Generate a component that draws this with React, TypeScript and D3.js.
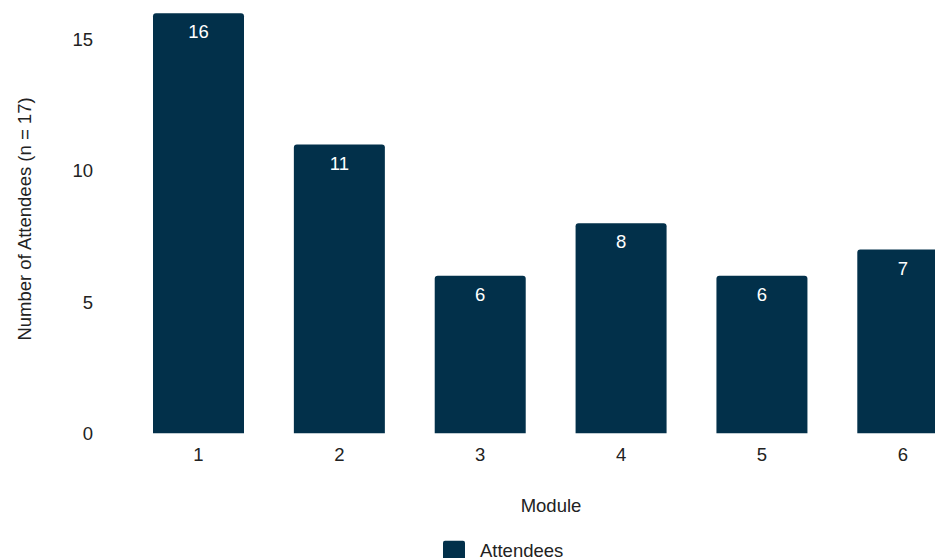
import React from "react";
import * as d3 from "d3";

const modules = ["1", "2", "3", "4", "5", "6"];
const attendees = [16, 11, 6, 8, 6, 7];
const yTicks = [0, 5, 10, 15];

const W = 935;
const H = 558;
const BAR = "#02304a";
const TXT = "#222222";
const FONT = "'Liberation Sans', Arial, Helvetica, sans-serif";
const FS = 18.5;

function roundedTop(x: number, y: number, w: number, h: number, r: number) {
  const rr = Math.min(r, w / 2, h);
  return `M${x},${y + h}V${y + rr}Q${x},${y} ${x + rr},${y}H${x + w - rr}Q${x + w},${y} ${x + w},${y + rr}V${y + h}Z`;
}

export default function App() {
  const step = 140.86;
  const pi = 49.86 / step;
  const po = pi / 2;
  const x0 = 153 - po * step;
  const x = d3
    .scaleBand<string>()
    .domain(modules)
    .range([x0, x0 + step * 6])
    .paddingInner(pi)
    .paddingOuter(po);
  const y = d3.scaleLinear().domain([0, 16]).range([433.3, 13.3]);

  return (
    <svg
      width={W}
      height={H}
      style={{ position: "absolute", left: 0, top: 0, background: "#fff" }}
      fontFamily={FONT}
    >
      {yTicks.map((t) => (
        <text
          key={t}
          x={93}
          y={y(t)}
          dy="0.35em"
          textAnchor="end"
          fontSize={FS}
          fill={TXT}
        >
          {t}
        </text>
      ))}
      {modules.map((m, i) => {
        const bx = x(m)!;
        const by = y(attendees[i]);
        const bh = y(0) - by;
        return (
          <g key={m}>
            <path d={roundedTop(bx, by, x.bandwidth(), bh, 3)} fill={BAR} />
            <text
              x={bx + x.bandwidth() / 2}
              y={by + 25}
              textAnchor="middle"
              fontSize={FS}
              fill="#ffffff"
            >
              {attendees[i]}
            </text>
            <text
              x={bx + x.bandwidth() / 2}
              y={461}
              textAnchor="middle"
              fontSize={FS}
              fill={TXT}
            >
              {m}
            </text>
          </g>
        );
      })}
      <text
        transform={`translate(31,219) rotate(-90)`}
        textAnchor="middle"
        fontSize={FS}
        fill={TXT}
      >
        Number of Attendees (n = 17)
      </text>
      <text x={551} y={512} textAnchor="middle" fontSize={FS} fill={TXT}>
        Module
      </text>
      <rect x={443} y={540.7} width={22} height={22} rx={2} fill={BAR} />
      <text x={480} y={557} fontSize={FS} fill={TXT}>
        Attendees
      </text>
    </svg>
  );
}
